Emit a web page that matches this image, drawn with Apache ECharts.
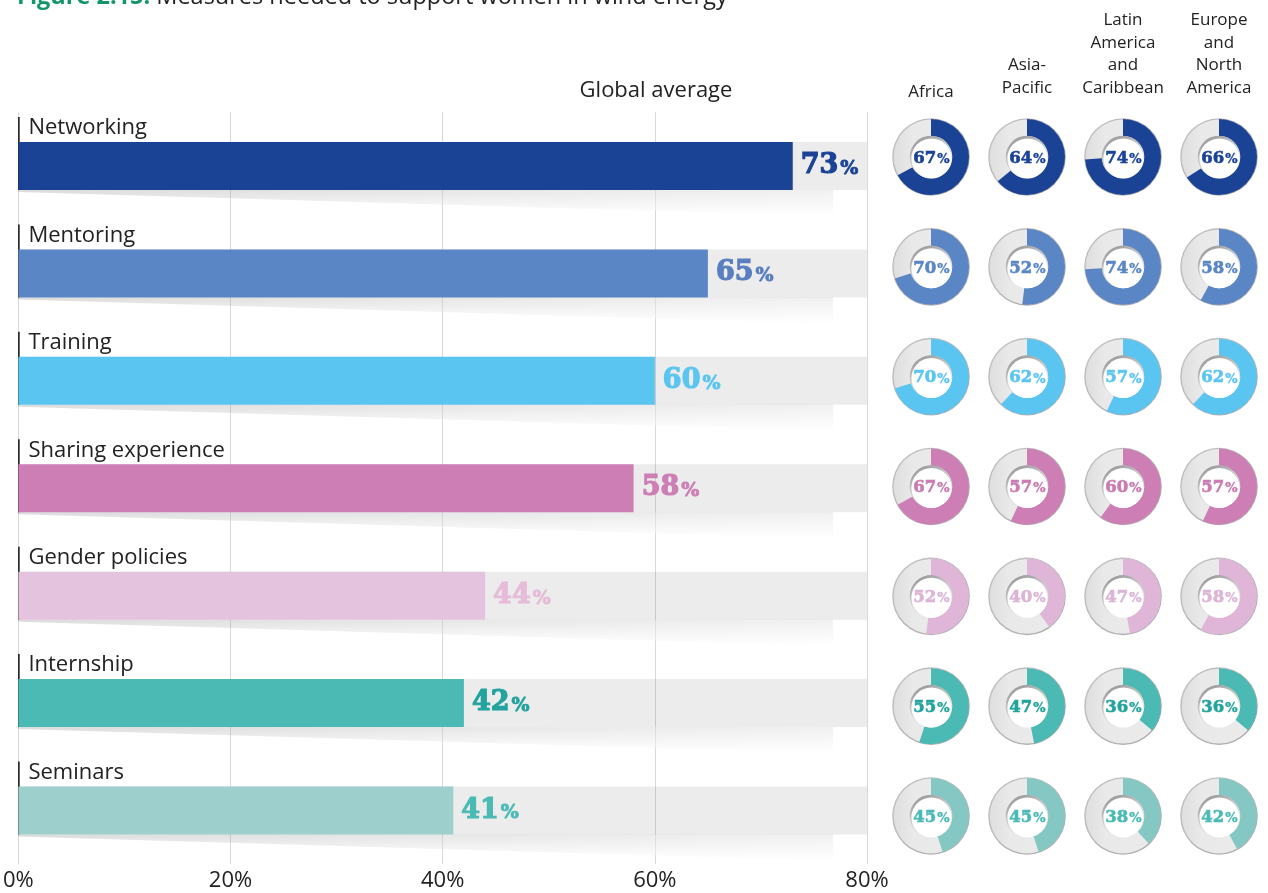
<!DOCTYPE html>
<html>
<head>
<meta charset="utf-8">
<script src="https://cdn.jsdelivr.net/npm/echarts@6/dist/echarts.min.js"></script>
<style>
html,body{margin:0;padding:0;background:#fff;}
#chart{width:1268px;height:893px;}
</style>
</head>
<body>
<div id="chart"></div>
<script>
// ---------- data ----------
const measures = ['Networking', 'Mentoring', 'Training', 'Sharing experience', 'Gender policies', 'Internship', 'Seminars'];
const globalAverage = [73, 65, 60, 58, 44, 42, 41];
const regions = ['Africa', 'Asia-\nPacific', 'Latin\nAmerica\nand\nCaribbean', 'Europe\nand\nNorth\nAmerica'];
const africa = [67, 70, 70, 67, 52, 55, 45];
const asiaPacific = [64, 52, 62, 57, 40, 47, 45];
const latinAmericaCaribbean = [74, 74, 57, 60, 47, 36, 38];
const europeNorthAmerica = [66, 58, 62, 57, 58, 36, 42];
const xTicks = [0, 20, 40, 60, 80];
const titleBold = 'Figure 2.15:';
const titleText = ' Measures needed to support women in wind energy';
const panelTitle = 'Global average';

// ---------- styles ----------
const barColors = ['#1a4396', '#5a86c5', '#5bc5f1', '#cc7eb5', '#e4c3de', '#4bb9b4', '#9dd0cd'];
const labelColors = ['#1a4396', '#5a7fc0', '#5bc5f1', '#cc7eb5', '#e6bcd9', '#23a39e', '#4bbab5'];
const ringColors = ['#1a4396', '#5a86c5', '#5bc5f1', '#cc7eb5', '#e0b6d8', '#4bb9b4', '#85c7c3'];
const donutLabelColors = ['#1a4396', '#5a86c5', '#5bc5f1', '#c97bb3', '#dcb4d6', '#23a39e', '#4bbab5'];
const SANS = '"Open Sans", "Noto Sans", sans-serif';
const SLAB = '"DejaVu Serif", serif';
const BAR_W = 48;
const SHADOW_END = 76.8;

const regionData = [africa, asiaPacific, latinAmericaCaribbean, europeNorthAmerica];
const donutData = [];
regionData.forEach((arr, j) => arr.forEach((v, i) => donutData.push([j, i, v])));

const chart = echarts.init(document.getElementById('chart'), null, {renderer: 'canvas'});

const option = {
  backgroundColor: '#fff',
  animation: false,
  graphic: [
    {
      type: 'text', left: 17, top: -15, silent: true,
      style: {
        text: '{b|' + titleBold + '}{r|' + titleText + '}',
        rich: {
          b: {fontFamily: SANS, fontSize: 23.5, fontWeight: 'bold', fill: '#13956b'},
          r: {fontFamily: SANS, fontSize: 23.5, fill: '#222'}
        }
      }
    },
    {
      type: 'text', x: 656, y: 91, silent: true,
      style: {text: panelTitle, fontFamily: SANS, fontSize: 22, fill: '#222', align: 'center', verticalAlign: 'middle'}
    }
  ],
  grid: [
    {left: 17, right: 401, top: 112.3, bottom: 28.8, containLabel: false},
    {left: 883, right: 1, top: 102.1, bottom: 22.1, containLabel: false}
  ],
  xAxis: [
    {
      gridIndex: 0, type: 'value', min: xTicks[0], max: xTicks[xTicks.length - 1], interval: xTicks[1] - xTicks[0],
      axisLine: {show: false}, axisTick: {show: false},
      splitLine: {show: true, lineStyle: {color: '#d9d9d9', width: 1}},
      axisLabel: {formatter: v => v + '%', fontFamily: SANS, fontSize: 22, color: '#222', margin: 6}
    },
    {
      gridIndex: 1, type: 'category', data: regions, position: 'top',
      axisLine: {show: false}, axisTick: {show: false}, splitLine: {show: false},
      axisLabel: {
        fontFamily: SANS, fontSize: 17, lineHeight: 22.5, color: '#222', margin: 3, interval: 0,
        formatter: function (v, idx) { return idx === 0 ? '{a|' + v + '}' : v; },
        rich: {a: {fontFamily: SANS, fontSize: 17, lineHeight: 22.5, color: '#222', padding: [0, 0, -8, 0]}}
      }
    }
  ],
  yAxis: [
    {
      gridIndex: 0, type: 'category', data: measures, inverse: true,
      axisLine: {show: false}, axisTick: {show: false}, splitLine: {show: false},
      axisLabel: {
        inside: true, align: 'left', verticalAlign: 'bottom', margin: 10,
        padding: [0, 0, 25, 0], lineHeight: 26,
        fontFamily: SANS, fontSize: 22, color: '#222'
      }
    },
    {
      gridIndex: 1, type: 'category', data: measures, inverse: true, show: false
    }
  ],
  series: [
    {
      type: 'custom', xAxisIndex: 0, yAxisIndex: 0, silent: true, clip: false, z: 1,
      data: measures.map((m, i) => [0, i]),
      renderItem: function (params, api) {
        const idx = api.value(1);
        const p0 = api.coord([0, idx]);
        const p1 = api.coord([SHADOW_END, idx]);
        const yb = p0[1] + BAR_W / 2;
        const yt = p0[1] - BAR_W / 2;
        const pts = [[p0[0], yb], [p1[0], yb], [p1[0], yb + 26], [p0[0], yb + 2]];
        return {
          type: 'group',
          children: [
            {
              type: 'polygon', shape: {points: pts},
              style: {
                fill: new echarts.graphic.LinearGradient(0, 0, 0, 1, [
                  {offset: 0, color: 'rgba(0,0,0,0.14)'},
                  {offset: 1, color: 'rgba(0,0,0,0.0)'}
                ])
              }
            },
            {
              type: 'polygon', shape: {points: pts},
              style: {
                fill: new echarts.graphic.LinearGradient(0, 0, 1, 0, [
                  {offset: 0, color: 'rgba(255,255,255,0)'},
                  {offset: 1, color: 'rgba(255,255,255,0.6)'}
                ])
              }
            },
            {
              type: 'line',
              shape: {x1: p0[0] + 0.5, y1: yt - 25, x2: p0[0] + 0.5, y2: yb},
              style: {stroke: '#111', lineWidth: 1.5}
            }
          ]
        };
      }
    },
    {
      type: 'bar', xAxisIndex: 0, yAxisIndex: 0, barWidth: BAR_W, z: 2,
      showBackground: true,
      backgroundStyle: {color: 'rgba(0,0,0,0.075)'},
      data: globalAverage.map((v, i) => ({
        value: v,
        itemStyle: {color: barColors[i]},
        label: {
          rich: {
            n: {fontFamily: SLAB, fontSize: 27, fontWeight: 'bold', color: labelColors[i], verticalAlign: 'bottom',
                textBorderColor: labelColors[i], textBorderWidth: 1.2},
            p: {fontFamily: SLAB, fontSize: 19, fontWeight: 'bold', color: labelColors[i], verticalAlign: 'bottom', padding: [0, 0, 1, 2],
                textBorderColor: labelColors[i], textBorderWidth: 0.8}
          }
        }
      })),
      label: {
        show: true, position: 'right', distance: 8,
        formatter: p => '{n|' + p.value + '}{p|%}'
      }
    },
    {
      type: 'custom', xAxisIndex: 1, yAxisIndex: 1, silent: true, clip: false,
      data: donutData,
      renderItem: function (params, api) {
        const j = api.value(0), i = api.value(1), v = api.value(2);
        const c = api.coord([j, i]);
        const R = 38, r0 = 21;
        const a0 = -Math.PI / 2;
        return {
          type: 'group',
          children: [
            {type: 'circle', shape: {cx: c[0], cy: c[1], r: R + 0.8},
              style: {fill: new echarts.graphic.LinearGradient(0, 0, 1, 1, [
                {offset: 0, color: '#c4c4c4'}, {offset: 1, color: '#a8a8a8'}])}},
            {type: 'sector', shape: {cx: c[0], cy: c[1], r0: r0, r: R - 0.6, startAngle: 0, endAngle: Math.PI * 2},
              style: {fill: new echarts.graphic.LinearGradient(0, 0, 1, 0, [
                {offset: 0, color: '#dedede'}, {offset: 0.25, color: '#e9e9e9'}, {offset: 1, color: '#ebebeb'}])}},
            {type: 'sector', shape: {cx: c[0], cy: c[1], r0: r0, r: R, startAngle: a0, endAngle: a0 + Math.PI * 2 * v / 100, clockwise: true},
              style: {fill: ringColors[i]}},
            {type: 'circle', shape: {cx: c[0], cy: c[1], r: r0 + 0.3},
              style: {fill: new echarts.graphic.LinearGradient(0, 0, 0.5, 1, [
                {offset: 0, color: '#8a8a8a'}, {offset: 0.55, color: '#cfcfcf'}, {offset: 1, color: '#f6f6f6'}])}},
            {type: 'circle', shape: {cx: c[0] + 0.4, cy: c[1] + 1.4, r: r0 - 1},
              style: {fill: '#ffffff'}},
            {type: 'text',
              style: {
                x: c[0] + 0.5, y: c[1] + 1.5,
                text: '{n|' + v + '}{p|%}',
                align: 'center', verticalAlign: 'middle',
                rich: {
                  n: {fontFamily: SLAB, fontSize: 16.5, fontWeight: 'bold', fill: donutLabelColors[i], verticalAlign: 'bottom',
                      stroke: donutLabelColors[i], lineWidth: 0.6},
                  p: {fontFamily: SLAB, fontSize: 13, fontWeight: 'bold', fill: donutLabelColors[i], verticalAlign: 'bottom', padding: [0, 0, 1, 1],
                      stroke: donutLabelColors[i], lineWidth: 0.4}
                }
              }}
          ]
        };
      }
    }
  ]
};
chart.setOption(option);
</script>
</body>
</html>
